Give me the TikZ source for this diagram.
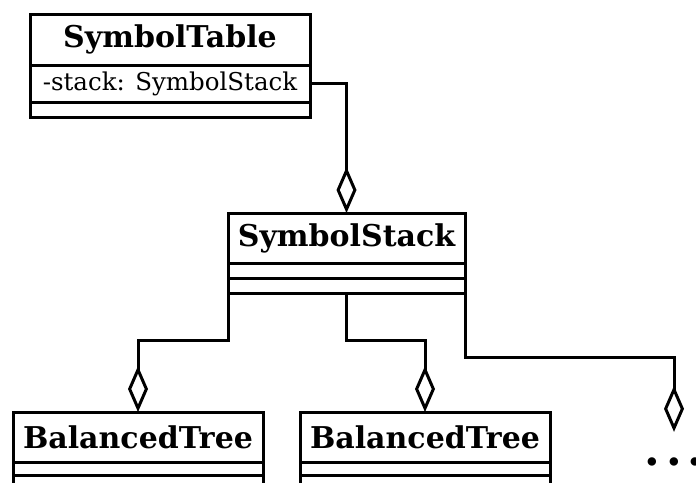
\documentclass[tikz,border=0pt]{standalone}
\usepackage{fontspec}
\setmainfont{DejaVu Serif}
\usetikzlibrary{arrows.meta,positioning}

\begin{document}
\begin{tikzpicture}[x=1pt, y=-1pt,
    classname/.style={draw, line width=3pt, outer sep=0pt, inner sep=0pt,
        font=\fontsize{30}{32}\selectfont\bfseries},
    compart/.style={draw, line width=3pt, outer sep=0pt, inner sep=0pt,
        font=\fontsize{24.5}{26}\selectfont},
    aggr/.style={line width=3pt, -{Diamond[open, length=46pt, width=20pt]}}]

    \clip (0,0) rectangle (696,482);

    % SymbolTable
    \node[classname, minimum width=280, minimum height=51] (st) at (170,39.5) {SymbolTable};
    \node[compart, minimum width=280, minimum height=37, anchor=north] (stattr) at (st.south) {-stack: SymbolStack};
    \node[compart, minimum width=280, minimum height=15, anchor=north] (stops) at (stattr.south) {};

    % SymbolStack
    \node[classname, minimum width=237, minimum height=50] (ss) at (346.5,238) {SymbolStack};
    \node[compart, minimum width=237, minimum height=15, anchor=north] (ssattr) at (ss.south) {};
    \node[compart, minimum width=237, minimum height=15, anchor=north] (ssops) at (ssattr.south) {};

    % BalancedTrees
    \node[classname, minimum width=250, minimum height=50] (bt1) at (138,437) {BalancedTree};
    \node[compart, minimum width=250, minimum height=13, anchor=north] (bt1attr) at (bt1.south) {};
    \node[compart, minimum width=250, minimum height=15, anchor=north] (bt1ops) at (bt1attr.south) {};

    \node[classname, minimum width=250, minimum height=50] (bt2) at (425,437) {BalancedTree};
    \node[compart, minimum width=250, minimum height=13, anchor=north] (bt2attr) at (bt2.south) {};
    \node[compart, minimum width=250, minimum height=15, anchor=north] (bt2ops) at (bt2attr.south) {};

    % more trees
    \node[font=\fontsize{45}{45}\selectfont\bfseries, minimum height=60, inner sep=0pt] (more) at (674,462) {.\hspace{6pt}.\hspace{6pt}.};

    % aggregations
    \draw[aggr] (stattr.east) -| (ss.north);
    \draw[aggr] (ssops.south west) -- ++(0,47) -| (bt1.north);
    \draw[aggr] (ssops.south) -- ++(0,47) -| (bt2.north);
    \draw[aggr] (ssops.south east) -- ++(0,64) -| (more.north);
\end{tikzpicture}
\end{document}
